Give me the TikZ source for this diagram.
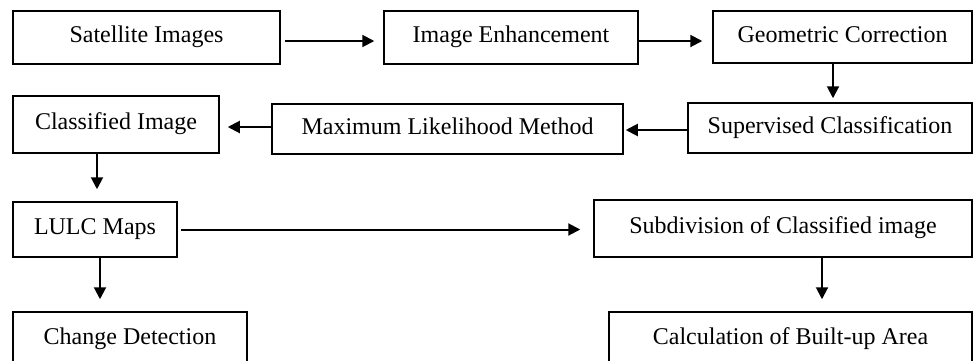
\documentclass[tikz,border=0pt]{standalone}
\usepackage{fontspec}
\setmainfont{Liberation Serif}
\usetikzlibrary{arrows.meta,calc}
\begin{document}
\begin{tikzpicture}[x=1pt,y=1pt,
  box/.style={draw,line width=1.5pt,rectangle,inner sep=0pt,
    font=\fontsize{24pt}{28pt}\selectfont,text height=19pt,text depth=9pt},
  flow/.style={line width=2pt,-{Triangle[length=12pt,width=12pt]}}]
\useasboundingbox (0,0) rectangle (974,-360);
\clip (0,0) rectangle (974,-360);
% boxes: (x1,y1,x2,y2) in pixels
\node[box,minimum width=267pt,minimum height=53pt] (sat) at (146.5,-37.5) {Satellite Images};
\node[box,minimum width=254pt,minimum height=53pt] (enh) at (511,-37.5) {Image Enhancement};
\node[box,minimum width=259pt,minimum height=52pt] (geo) at (842.5,-37) {Geometric Correction};
\node[box,minimum width=284pt,minimum height=50pt] (sup) at (830,-128) {Supervised Classification};
\node[box,minimum width=351pt,minimum height=50pt] (mlm) at (447.5,-129) {Maximum Likelihood Method};
\node[box,minimum width=206pt,minimum height=57pt] (cls) at (116,-124.5) {Classified Image};
\node[box,minimum width=164pt,minimum height=55pt] (lulc) at (95,-229.5) {LULC Maps};
\node[box,minimum width=378pt,minimum height=57pt] (sub) at (783,-228.5) {Subdivision of Classified image};
\node[box,minimum width=234pt,minimum height=54pt] (chg) at (130,-339) {Change Detection};
\node[box,minimum width=363pt,minimum height=54pt] (calc) at (790.5,-339) {Calculation of Built-up Area};
% connectors
\draw[flow,shorten <=4pt,shorten >=9pt] ([yshift=-3.5pt]sat.east) -- ([yshift=-3.5pt]sat.east -| enh.west);
\draw[flow,shorten >=10pt] ([yshift=-3.5pt]enh.east) -- ([yshift=-3.5pt]enh.east -| geo.west);
\draw[flow,shorten >=4pt] ([xshift=-9.5pt]geo.south) -- ([xshift=-9.5pt]geo.south |- sup.north);
\draw[flow,shorten >=2pt] ([yshift=-2pt]sup.west) -- ([yshift=-2pt]sup.west -| mlm.east);
\draw[flow,shorten >=8pt] ([yshift=2pt]mlm.west) -- ([yshift=2pt]mlm.west -| cls.east);
\draw[flow,shorten >=12pt] ([xshift=2pt]lulc.north |- cls.south) -- ([xshift=2pt]lulc.north);
\draw[flow,shorten <=3pt,shorten >=13pt] (lulc.east) -- (lulc.east -| sub.west);
\draw[flow,shorten >=12pt] ([xshift=5pt]lulc.south) -- ([xshift=5pt]lulc.south |- chg.north);
\draw[flow,shorten >=12pt] ([xshift=39pt]sub.south) -- ([xshift=39pt]sub.south |- calc.north);
\end{tikzpicture}
\end{document}
